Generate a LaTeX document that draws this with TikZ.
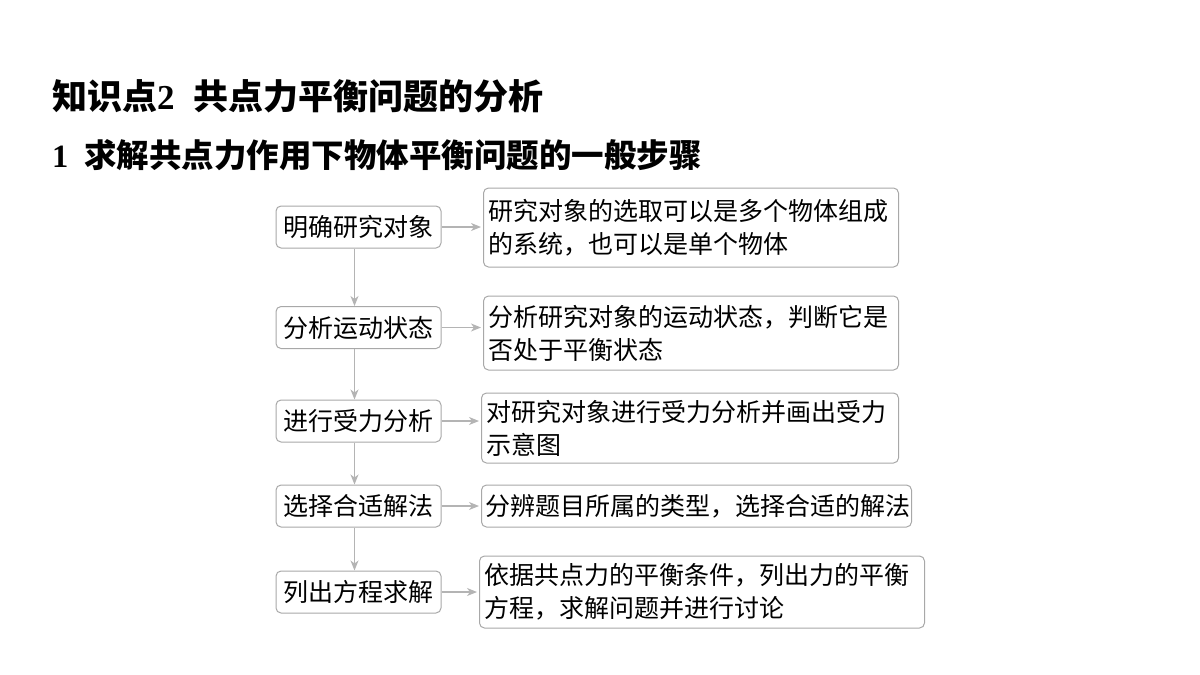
\documentclass[tikz,border=0pt]{standalone}
\usepackage{fontspec}
\setmainfont{Liberation Serif}
\newfontfamily\cjk{Noto Sans CJK SC}
\usetikzlibrary{arrows.meta}
\definecolor{boxgray}{HTML}{A8A8A8}
\definecolor{linegray}{HTML}{B4B4B4}

\begin{document}
\begin{tikzpicture}[x=1pt,y=1pt,
	stepbox/.style={draw=boxgray,line width=1pt,rounded corners=5pt,minimum width=165pt,minimum height=42pt,inner sep=0pt,font=\cjk\fontsize{25}{33}\selectfont},
	notebox/.style={draw=boxgray,line width=1pt,rounded corners=5pt,anchor=west,align=left,inner xsep=5pt,inner ysep=0pt,font=\cjk\fontsize{25}{33}\selectfont},
	link/.style={draw=linegray,line width=1.2pt,-{Stealth[length=10pt,width=8pt,inset=3pt]},shorten >=2pt}]
				\useasboundingbox(0,0)rectangle(1200,-675);
				% titles
				\node[anchor=west,inner sep=0pt](head)at(52,-96){\fontsize{35}{40}\selectfont\bfseries{\cjk 知识点}2\hspace{19pt}{\cjk 共点力平衡问题的分析}};
				\node[anchor=west,inner sep=0pt](sub)at(52,-155){\fontsize{32.5}{38}\selectfont\bfseries 1\hspace{16pt}{\cjk 求解共点力作用下物体平衡问题的一般步骤}};
				% steps
				\node[stepbox](s1)at(358.5,-227){明确研究对象};
				\node[stepbox](s2)at(358.5,-327.5){分析运动状态};
				\node[stepbox](s3)at(358.5,-421){进行受力分析};
				\node[stepbox](s4)at(358.5,-506){选择合适解法};
				\node[stepbox](s5)at(358.5,-592){列出方程求解};
				% notes
				\node[notebox,text width=405pt,minimum height=79pt](d1)at(483,-227.5){研究对象的选取可以是多个物体组成\\的系统，也可以是单个物体};
				\node[notebox,text width=405pt,minimum height=74pt](d2)at(483,-333){分析研究对象的运动状态，判断它是\\否处于平衡状态};
				\node[notebox,text width=407pt,minimum height=70pt](d3)at(481,-428){对研究对象进行受力分析并画出受力\\示意图};
				\node[notebox,text width=422pt,minimum height=42pt,inner xsep=4pt](d4)at(481,-506){分辨题目所属的类型，选择合适的解法};
				\node[notebox,text width=435pt,minimum height=72pt](d5)at(479,-592){依据共点力的平衡条件，列出力的平衡\\方程，求解问题并进行讨论};
				% arrows
				\draw[link,shorten >=0pt]([xshift=-4pt]s1.south)--([xshift=-4pt]s2.north);
				\draw[link,shorten >=0pt]([xshift=-4pt]s2.south)--([xshift=-4pt]s3.north);
				\draw[link,shorten >=0pt]([xshift=-4pt]s3.south)--([xshift=-4pt]s4.north);
				\draw[link,shorten >=0pt]([xshift=-4pt]s4.south)--([xshift=-4pt]s5.north);
				\draw[link](s1.east)--(s1.east-|d1.west);
				\draw[link](s2.east)--(s2.east-|d2.west);
				\draw[link](s3.east)--(s3.east-|d3.west);
				\draw[link](s4.east)--(s4.east-|d4.west);
				\draw[link](s5.east)--(s5.east-|d5.west);
			\end{tikzpicture}
\end{document}
